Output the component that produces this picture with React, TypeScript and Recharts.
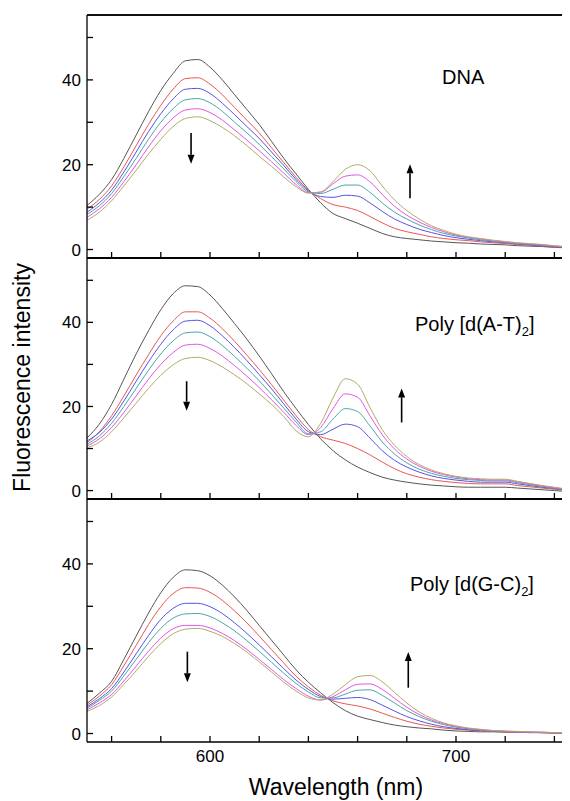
import { LineChart, Line, XAxis, YAxis, ReferenceLine } from "recharts";

// wavelength grid (nm)
const WAVELENGTHS = [
  550, 555, 560, 565, 570, 575, 580, 585, 590, 595, 600, 605, 610, 615, 620, 625, 630, 635, 640, 645,
  650, 655, 660, 665, 670, 675, 680, 685, 690, 695, 700, 705, 710, 715, 720, 725, 730, 735, 740, 745, 750,
];

const X_TICKS = [560, 580, 600, 620, 640, 660, 680, 700, 720, 740];
const X_LABELS = [600, 700];
const Y_TICKS = [0, 10, 20, 30, 40, 50];
const Y_LABELS = [0, 20, 40];

const COLORS = ["#555555", "#e8584f", "#5454e6", "#4aa6a6", "#e653e6", "#b2aa66"];

// DNA
const DNA_1 = [10.4, 13, 16.5, 21.5, 27, 32.5, 37.5, 41.5, 44.5, 44.8, 43, 40, 36.5, 33, 29.5, 25.5, 21.5, 17.8, 14.2, 11, 8.5, 7.3, 6.2, 5, 3.8, 3, 2.6, 2.3, 2, 1.8, 1.6, 1.5, 1.3, 1.2, 1.1, 0.9, 0.8, 0.7, 0.5, 0.4, 0.3];
const DNA_2 = [9.5, 11.8, 15, 19.5, 24.5, 29.5, 34, 37.8, 40.3, 40.5, 39, 36.5, 33.5, 30.5, 27.5, 24, 20.5, 17, 14, 12, 10.6, 10, 9.2, 7.8, 6.3, 5, 4.2, 3.6, 3, 2.6, 2.3, 2.1, 1.8, 1.6, 1.4, 1.2, 1, 0.8, 0.6, 0.4, 0.3];
const DNA_3 = [8.8, 11, 14, 18.3, 23, 27.8, 32, 35.5, 37.8, 38, 36.8, 34.5, 31.8, 29, 26.2, 23, 19.8, 16.5, 13.8, 12.5, 12.3, 12.8, 12.6, 11, 9, 7.2, 5.9, 4.8, 4, 3.3, 2.8, 2.4, 2.1, 1.8, 1.6, 1.3, 1.1, 0.9, 0.7, 0.5, 0.4];
const DNA_4 = [8.3, 10.3, 13.2, 17.2, 21.5, 26, 30, 33.2, 35.3, 35.6, 34.6, 32.6, 30, 27.5, 24.8, 21.9, 19, 16, 13.6, 13.2, 14.2, 15.2, 15.2, 13.5, 11, 8.8, 7.2, 5.8, 4.7, 3.8, 3.2, 2.7, 2.3, 2, 1.7, 1.4, 1.2, 1, 0.8, 0.6, 0.4];
const DNA_5 = [7.6, 9.6, 12.3, 16, 20, 24.2, 28, 31, 32.9, 33.2, 32.3, 30.5, 28.2, 25.8, 23.3, 20.7, 18, 15.3, 13.4, 13.5, 15.5, 17.3, 17.6, 16, 13, 10.2, 8.1, 6.5, 5.2, 4.2, 3.4, 2.9, 2.5, 2.1, 1.8, 1.5, 1.3, 1.1, 0.8, 0.6, 0.5];
const DNA_6 = [6.9, 8.8, 11.5, 15, 18.7, 22.5, 26, 29, 30.9, 31.3, 30.4, 28.8, 26.8, 24.5, 22, 19.6, 17.1, 14.8, 13.3, 13.6, 16, 18.9, 20, 18.6, 15, 11.7, 9.2, 7.2, 5.6, 4.5, 3.6, 3, 2.6, 2.2, 1.9, 1.6, 1.4, 1.2, 0.9, 0.7, 0.5];

// Poly [d(A-T)2]
const AT_1 = [12.5, 15.8, 20.5, 26.5, 32.5, 38, 43, 46.8, 48.7, 48.5, 46.5, 43.3, 39.7, 36, 32, 27.8, 23.5, 19.5, 15.7, 12.3, 9.5, 7.3, 5.6, 4.3, 3.2, 2.5, 2, 1.6, 1.3, 1.1, 0.9, 0.8, 0.8, 0.8, 0.8, 0.6, 0.4, 0.2, 0, -0.2, -0.3];
const AT_2 = [11.4, 14, 17.8, 22.5, 27.5, 32.3, 36.8, 40.3, 42.5, 42.5, 41, 38.5, 35.5, 32.2, 28.8, 25.2, 21.5, 17.8, 14.5, 12.8, 12, 11.2, 10, 8.5, 6.8, 5.2, 4, 3.2, 2.6, 2.2, 1.9, 1.7, 1.6, 1.6, 1.6, 1.2, 0.9, 0.6, 0.3, 0.1, 0];
const AT_3 = [11.8, 13.8, 17, 21.3, 26, 30.6, 34.8, 38.2, 40.3, 40.5, 39.2, 36.8, 34, 30.9, 27.6, 24.2, 20.6, 17, 14, 13.3, 14.6, 15.8, 15.2, 12.5, 9.5, 7.2, 5.6, 4.4, 3.5, 2.9, 2.5, 2.2, 2, 2, 2, 1.6, 1.2, 0.8, 0.5, 0.2, 0.1];
const AT_4 = [11, 13, 16, 20, 24.3, 28.6, 32.5, 35.6, 37.5, 37.7, 36.6, 34.5, 31.9, 29.1, 26.1, 22.9, 19.6, 16.3, 13.5, 14, 17, 19.5, 18.8, 15.4, 11.6, 8.7, 6.6, 5.1, 4.1, 3.4, 2.9, 2.6, 2.4, 2.3, 2.3, 1.9, 1.4, 1, 0.6, 0.3, 0.1];
const AT_5 = [10.6, 12.3, 15, 18.6, 22.5, 26.5, 30, 32.8, 34.6, 34.8, 33.8, 32, 29.7, 27.2, 24.5, 21.6, 18.6, 15.5, 13.3, 15, 19.5, 23, 22.2, 17.8, 13.3, 9.9, 7.5, 5.8, 4.6, 3.8, 3.2, 2.8, 2.6, 2.5, 2.5, 2.1, 1.6, 1.1, 0.7, 0.3, 0.1];
const AT_6 = [10.2, 11.5, 14, 17.3, 20.8, 24.3, 27.4, 29.9, 31.4, 31.7, 30.9, 29.4, 27.5, 25.4, 23, 20.5, 17.6, 14.2, 12.8, 16, 22, 26.6, 25.3, 19.8, 14.5, 10.8, 8.1, 6.2, 4.9, 4, 3.4, 3, 2.8, 2.7, 2.7, 2.2, 1.7, 1.2, 0.8, 0.4, 0.2];

// Poly [d(G-C)2]
const GC_1 = [7.1, 9.5, 12.3, 17.5, 23, 28.4, 33.2, 36.8, 38.6, 38.4, 37.2, 35, 32.2, 29, 25.5, 22, 18.5, 15, 12.1, 9.6, 7.3, 5.4, 4.1, 3.3, 2.6, 2, 1.6, 1.3, 1.1, 0.8, 0.6, 0.5, 0.4, 0.4, 0.3, 0.3, 0.2, 0.2, 0.1, 0.1, 0];
const GC_2 = [6.7, 8.8, 11.5, 16, 20.8, 25.7, 29.9, 33, 34.4, 34.3, 33.3, 31.4, 28.9, 26.1, 23, 19.8, 16.6, 13.5, 11, 9, 7.7, 7, 6.5, 5.8, 4.8, 3.8, 2.9, 2.2, 1.7, 1.3, 1, 0.8, 0.6, 0.5, 0.4, 0.3, 0.3, 0.2, 0.1, 0.1, 0];
const GC_3 = [6.3, 8.2, 10.6, 14.5, 18.8, 23.1, 26.9, 29.5, 30.7, 30.7, 29.9, 28.3, 26.1, 23.6, 20.9, 18.1, 15.3, 12.6, 10.4, 8.7, 8.1, 8.3, 8.5, 8, 6.7, 5.3, 4, 3, 2.2, 1.6, 1.2, 0.9, 0.7, 0.6, 0.5, 0.4, 0.3, 0.2, 0.2, 0.1, 0];
const GC_4 = [6, 7.8, 10, 13.6, 17.5, 21.4, 24.8, 27.2, 28.2, 28.3, 27.6, 26.1, 24.2, 21.9, 19.4, 16.8, 14.2, 11.8, 9.8, 8.4, 8.4, 9.3, 10.2, 10.3, 9, 7.2, 5.4, 4, 2.9, 2.1, 1.5, 1.1, 0.8, 0.6, 0.5, 0.4, 0.3, 0.3, 0.2, 0.1, 0.1];
const GC_5 = [5.6, 7.2, 9.2, 12.4, 15.9, 19.4, 22.5, 24.7, 25.5, 25.5, 24.9, 23.6, 21.9, 19.8, 17.5, 15.1, 12.7, 10.6, 8.8, 7.9, 8.7, 10.3, 11.6, 11.7, 10.4, 8.3, 6.2, 4.5, 3.2, 2.3, 1.7, 1.2, 0.9, 0.7, 0.5, 0.4, 0.3, 0.3, 0.2, 0.1, 0.1];
const GC_6 = [5.2, 6.6, 8.6, 11.6, 14.8, 18.2, 21.2, 23.5, 24.6, 24.8, 24.1, 22.9, 21.2, 19.2, 16.9, 14.5, 12.1, 10, 8.4, 7.9, 9.3, 11.5, 13.4, 13.7, 12.2, 9.7, 7.2, 5.1, 3.6, 2.5, 1.8, 1.3, 1, 0.7, 0.6, 0.5, 0.4, 0.3, 0.2, 0.2, 0.1];

// arrows: [nm, from, to]
const DNA_ARROWS = [[592.3, 27.5, 20.2], [681.3, 12.1, 20.1]];
const AT_ARROWS = [[590.5, 26.0, 19.0], [677.9, 16.2, 24.3]];
const GC_ARROWS = [[590.8, 19.3, 12.1], [680.6, 10.8, 19.2]];

const Y_MIN = -2;
const Y_MAX = 55.3;

const FONT = '"Liberation Sans", Arial, sans-serif';
const AXIS = { stroke: "#000", strokeWidth: 1.3 };

function makeRows(series: number[][]) {
  return WAVELENGTHS.map((nm, i) => {
    const row: Record<string, number> = { nm };
    series.forEach((s, k) => (row["s" + k] = s[i]));
    return row;
  });
}

function Arrow(props: any) {
  const { x1, y1, x2, y2 } = props;
  const dir = y2 > y1 ? 1 : -1;
  const head = 9;
  return (
    <g>
      <line x1={x1} y1={y1} x2={x2} y2={y2 - dir * head} stroke="#000" strokeWidth={1.6} />
      <polygon points={`${x2 - 3.5},${y2 - dir * head} ${x2 + 3.5},${y2 - dir * head} ${x2},${y2}`} fill="#000" />
    </g>
  );
}

function Panel({ series, arrows, top, plotH, topTicks, bottomLabels }: any) {
  const rows = makeRows(series);
  const bottomH = bottomLabels ? 50 : 1;
  return (
    <div style={{ position: "absolute", left: 0, top: top - 5 - 8 }}>
      <LineChart width={571} height={5 + plotH + bottomH + 4} data={rows} margin={{ top: 4, right: 0, bottom: 4, left: 0 }}>
        <XAxis dataKey="nm" type="number" domain={[550, 750]} allowDataOverflow ticks={X_TICKS}
          tickFormatter={(v: number) => (bottomLabels && X_LABELS.includes(v) ? String(v) : "")}
          height={bottomH} tickSize={-6} tickMargin={14} axisLine={AXIS} tickLine={AXIS}
          tick={{ fontSize: 17, fill: "#000" }} />
        <XAxis xAxisId="top" orientation="top" type="number" domain={[550, 750]} allowDataOverflow ticks={X_TICKS}
          height={1} tickSize={topTicks ? -6 : 0} tickFormatter={() => ""} axisLine={AXIS} tickLine={topTicks ? AXIS : false} />
        <YAxis type="number" domain={[Y_MIN, Y_MAX]} allowDataOverflow ticks={Y_TICKS} width={79}
          tickFormatter={(v: number) => (Y_LABELS.includes(v) ? String(v) : "")}
          tickSize={-6} tickMargin={12} axisLine={AXIS} tickLine={AXIS} tick={{ fontSize: 17, fill: "#000" }} />
        <ReferenceLine y={Y_MAX} stroke="#000" strokeWidth={1.3} ifOverflow="extendDomain" />
        {COLORS.map((c, k) => (
          <Line key={k} dataKey={"s" + k} stroke={c} strokeWidth={1} dot={false} type="monotone" isAnimationActive={false} />
        ))}
        {arrows.map((a: number[], k: number) => (
          <ReferenceLine key={"a" + k} segment={[{ x: a[0], y: a[1] }, { x: a[0], y: a[2] }]} shape={Arrow} />
        ))}
      </LineChart>
    </div>
  );
}

const label = (left: number, top: number, size = 20) => ({
  position: "absolute" as const, left: left - 8, top: top - 8, fontSize: size, lineHeight: 1, whiteSpace: "nowrap" as const, color: "#000",
});

export default function App() {
  return (
    <div style={{ position: "relative", width: 562, height: 793, overflow: "hidden", fontFamily: FONT, background: "#fff" }}>
      <Panel series={[DNA_1, DNA_2, DNA_3, DNA_4, DNA_5, DNA_6]} arrows={DNA_ARROWS} top={15} plotH={243} topTicks={false} bottomLabels={false} />
      <Panel series={[AT_1, AT_2, AT_3, AT_4, AT_5, AT_6]} arrows={AT_ARROWS} top={258} plotH={241} topTicks={true} bottomLabels={false} />
      <Panel series={[GC_1, GC_2, GC_3, GC_4, GC_5, GC_6]} arrows={GC_ARROWS} top={499} plotH={243} topTicks={true} bottomLabels={true} />
      <div style={label(442, 67)}>DNA</div>
      <div style={label(415, 314)}>Poly [d(A-T)<sub style={{ fontSize: 13 }}>2</sub>]</div>
      <div style={label(410, 574)}>Poly [d(G-C)<sub style={{ fontSize: 13 }}>2</sub>]</div>
      <div style={{ ...label(336 - 150, 776, 23), width: 300, textAlign: "center" }}>Wavelength (nm)</div>
      <div style={{ ...label(22 - 150, 378 - 12, 23), width: 300, textAlign: "center", transform: "rotate(-90deg)", transformOrigin: "50% 50%" }}>
        Fluorescence intensity
      </div>
    </div>
  );
}
